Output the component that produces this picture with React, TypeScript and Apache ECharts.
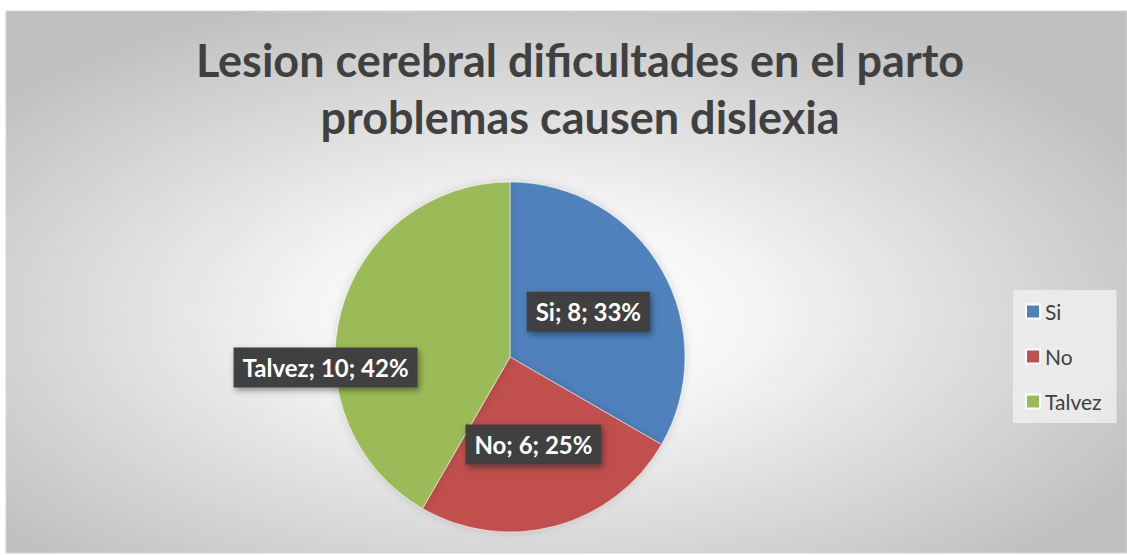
import React, { useEffect, useRef } from "react";
import * as echarts from "echarts";

const titleLines = ["Lesion cerebral dificultades en el parto", "problemas causen dislexia"];
const categories = ["Si", "No", "Talvez"];
const values = [8, 6, 10];
const colors = ["#4F81BD", "#C0504D", "#9BBB59"];

export default function App() {
  const ref = useRef<HTMLDivElement>(null);
  useEffect(() => {
    const chart = echarts.init(ref.current!, null, { renderer: "svg" });
    const font = "Lato, 'Open Sans', sans-serif";
    chart.setOption({
      animation: false,
      backgroundColor: "#ffffff",
      color: colors,
      graphic: [
        {
          type: "rect",
          z: -10,
          silent: true,
          shape: { x: 6, y: 11, width: 1121, height: 542 },
          style: {
            stroke: "#d4d4d4",
            lineWidth: 1,
            fill: {
              type: "radial",
              x: 0.47,
              y: 0.56,
              r: 0.62,
              colorStops: [
                { offset: 0, color: "#ffffff" },
                { offset: 0.3, color: "#f6f6f6" },
                { offset: 1, color: "#c0c0c0" },
              ],
            },
          },
        },
      ],
      title: {
        text: titleLines.join("\n"),
        left: 575,
        textAlign: "center",
        top: 26,
        textStyle: {
          fontFamily: font,
          fontSize: 45,
          fontWeight: "bold",
          color: "#404040",
          lineHeight: 57,
        },
      },
      legend: {
        orient: "vertical",
        left: 1013,
        top: 290,
        data: categories,
        icon: "rect",
        itemWidth: 14,
        itemHeight: 14,
        itemGap: 24,
        padding: [11, 15, 11, 12],
        backgroundColor: "rgba(238,238,238,0.85)",
        textStyle: { fontFamily: font, fontSize: 21, color: "#404040" },
      },
      series: [
        {
          type: "pie",
          center: [510, 357],
          radius: ["0%", 175],
          startAngle: 90,
          clockwise: true,
          percentPrecision: 0,
          itemStyle: {
            borderColor: "#ffffff",
            borderWidth: 0.5,
            shadowBlur: 8,
            shadowColor: "rgba(0,0,0,0.15)",
          },
          label: {
            position: "inner",
            formatter: "{b}; {c}; {d}%",
            fontFamily: font,
            fontSize: 24,
            fontWeight: "bold",
            color: "#ffffff",
            backgroundColor: "#404040",
            padding: [9, 9, 7, 9],
            shadowBlur: 6,
            shadowOffsetX: 2,
            shadowOffsetY: 3,
            shadowColor: "rgba(0,0,0,0.4)",
          },
          labelLayout: (p: any) => (p.dataIndex === 2 ? { dx: -97, dy: 34 } : {}),
          labelLine: { show: false },
          data: categories.map((c, i) => ({ name: c, value: values[i] })),
        },
      ],
    });
    return () => chart.dispose();
  }, []);
  return (
    <div
      ref={ref}
      style={{ position: "fixed", left: 0, top: 0, width: 1127, height: 555 }}
    />
  );
}
